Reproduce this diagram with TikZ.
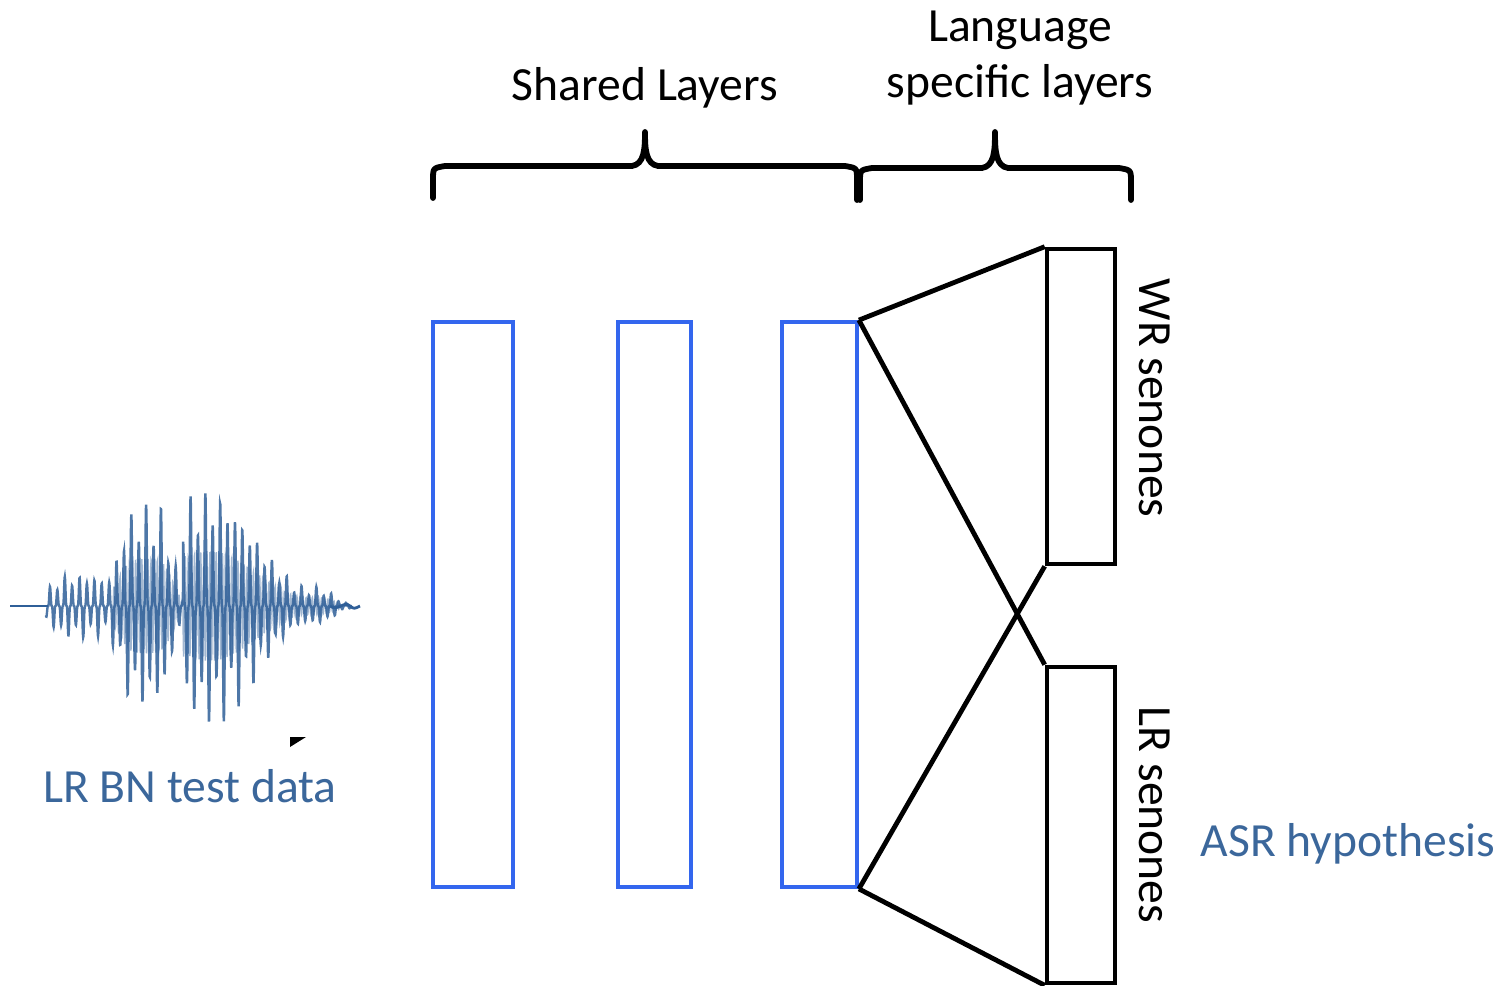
\documentclass[tikz,border=0pt]{standalone}
\usepackage{fontspec}
\setmainfont{Carlito}
\usetikzlibrary{fit}
\definecolor{layerblue}{RGB}{51,102,238}
\definecolor{labelblue}{RGB}{59,103,155}
\definecolor{wavecol}{RGB}{47,95,152}
\begin{document}
\begin{tikzpicture}[x=0.5pt,y=-0.5pt,
  bluebox/.style={draw=layerblue, line width=1.9pt, inner sep=0pt},
  outbox/.style={draw=black, line width=2.3pt, inner sep=0pt},
  link/.style={draw=black, line width=2.4pt},
  brace/.style={draw=black, line width=2.9pt, line cap=round, line join=round},
  big/.style={font=\fontsize{23.8}{28}\selectfont, inner sep=0pt},
  bluetxt/.style={big, text=labelblue},
  declare function={env(\t)=
      32*exp(-((\t-80)/36)^4)
    + 105*exp(-((\t-146)/30)^4)
    + 122*exp(-((\t-210)/65)^2)*(\t>183)
    + 12*exp(-((\t-322)/18)^2);}]
\useasboundingbox (0,0) rectangle (1501,986);

% shared layers
\node[bluebox, fit={(433,322)(513,887)}] (l1) {};
\node[bluebox, fit={(618,322)(691,887)}] (l2) {};
\node[bluebox, fit={(782,322)(857,887)}] (l3) {};

% language specific output layers
\node[outbox, fit={(1047,249)(1115,564)}] (wr) {};
\node[outbox, fit={(1047,667)(1115,983)}] (lr) {};

\draw[link] (l3.north east) -- (wr.north west);
\draw[link] (l3.north east) -- (lr.north west);
\draw[link] (l3.south east) -- (wr.south west);
\draw[link] (l3.south east) -- (lr.south west);

% braces
\draw[brace] (433,198) -- (433,180) .. controls (433,168) .. (445,166) -- (632,166)
  .. controls (644,164) and (645,150) .. (645,132)
  .. controls (645,150) and (646,164) .. (658,166) -- (845,166)
  .. controls (857,168) .. (857,180) -- (857,200);
\draw[brace] (860,200) -- (860,182) .. controls (860,170) .. (872,168) -- (982,168)
  .. controls (994,166) and (995,152) .. (995,132)
  .. controls (995,152) and (996,166) .. (1008,168) -- (1119,168)
  .. controls (1131,170) .. (1131,182) -- (1131,200);

% labels
\node[big] (shared) at (645,88) {Shared Layers};
\node[big, align=center] (lang) at (1020,58) {Language\\specific layers};
\node[big, rotate=-90] (wrlab) at (1155,398) {WR senones};
\node[big, rotate=-90] (lrlab) at (1155,815) {LR senones};
\node[bluetxt] (data) at (190,786) {LR BN test data};
\node[bluetxt] (hyp) at (1348,844) {ASR hypothesis};

% speech waveform: baseline, dense core and spiky outer oscillation
\draw[wavecol, line width=0.8pt] (10,606) -- (48,606);
\draw[wavecol, line width=0.7pt, opacity=0.45]
  plot[domain=112:340, samples=1000]
  (\x, {606 + 0.45*env(\x)*sin(mod(\x,3.1)*116.13)});
\draw[wavecol, line width=1.2pt, opacity=0.85]
  plot[domain=46:352, samples=1400]
  (\x, {606 + env(\x)*(0.78+0.22*sin(\x*23))
        *sin(mod(\x,7.4)*48.65)*sin(mod(\x,7.4)*48.65)*sin(mod(\x,7.4)*48.65)});
\draw[wavecol, line width=1.4pt] (330,606) .. controls (338,612) and (344,600) .. (350,606)
  .. controls (354,609) .. (360,606);

% small corner mark
\fill[black] (290,737) -- (306,737) -- (290,747) -- cycle;
\end{tikzpicture}
\end{document}
